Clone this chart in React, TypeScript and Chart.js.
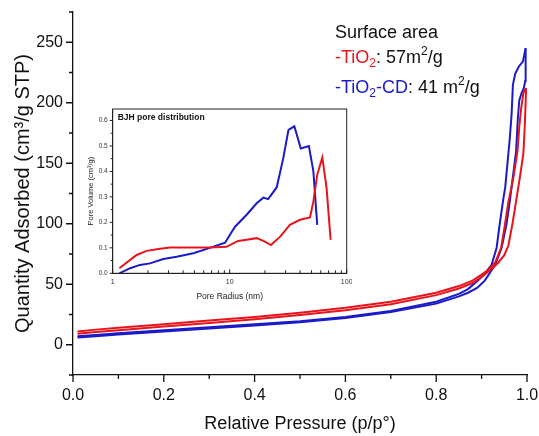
import React, { useEffect, useRef } from 'react';
import { Chart, registerables } from 'chart.js';

Chart.register(...registerables);

const FONT = "Arial, 'Liberation Sans', sans-serif";
const RED = '#e8141c';
const BLUE = '#1a1ac8';
const INK = '#111111';

// ---- Main isotherms (relative pressure p/p0, quantity adsorbed cm3/g STP)
const RED_ADS_P = [0.01, 0.05, 0.1, 0.2, 0.3, 0.4, 0.5, 0.6, 0.7, 0.8, 0.85, 0.88, 0.9, 0.92, 0.937, 0.95, 0.959, 0.968, 0.977, 0.985, 0.992, 0.995, 0.997, 0.998];
const RED_ADS_V = [9, 10.5, 12, 15, 18, 21, 24.5, 28.5, 33.5, 41, 46.5, 51, 56, 62, 68, 74, 82, 100, 121, 140, 158, 180, 200, 212];
const RED_DES_P = [0.998, 0.992, 0.987, 0.983, 0.979, 0.97, 0.959, 0.95, 0.943, 0.93, 0.915, 0.9, 0.88, 0.85, 0.8, 0.7, 0.6, 0.5, 0.4, 0.3, 0.2, 0.1, 0.05, 0.01];
const RED_DES_V = [212, 208, 195, 180, 160, 138, 118, 96, 80, 68, 62, 58, 53, 48.5, 43, 35.5, 30.5, 26.5, 23, 20, 17, 14, 12.5, 11];

const BLUE_ADS_P = [0.01, 0.05, 0.1, 0.2, 0.3, 0.4, 0.5, 0.6, 0.7, 0.8, 0.85, 0.87, 0.89, 0.907, 0.93, 0.944, 0.955, 0.963, 0.97, 0.976, 0.98, 0.983, 0.988, 0.993, 0.996, 0.997];
const BLUE_ADS_V = [6, 7, 8.5, 11, 13.5, 16, 18.5, 22, 27, 34, 40, 43, 47, 53, 66, 80, 100, 121, 142, 160, 188, 202, 208, 212, 218, 245];
const BLUE_DES_P = [0.997, 0.991, 0.982, 0.974, 0.969, 0.966, 0.962, 0.957, 0.952, 0.948, 0.94, 0.933, 0.922, 0.905, 0.892, 0.87, 0.85, 0.8, 0.7, 0.6, 0.5, 0.4, 0.3, 0.2, 0.1, 0.05, 0.01];
const BLUE_DES_V = [245, 234, 230, 224, 215, 190, 170, 150, 130, 121, 100, 80, 66, 58, 53, 46, 42, 35.5, 28, 23, 19.5, 17, 14.5, 12, 9.5, 8, 7];

const X_MAJOR = [0, 0.2, 0.4, 0.6, 0.8, 1.0];
const X_MINOR = [0.1, 0.3, 0.5, 0.7, 0.9];
const Y_MAJOR = [0, 50, 100, 150, 200, 250];
const Y_MINOR = [-25, 25, 75, 125, 175, 225, 275];

// ---- Inset: BJH pore distribution (pore radius nm, pore volume cm3/g)
const BJH_BLUE_R = [1.14, 1.41, 1.71, 2.08, 2.71, 3.52, 4.89, 6.77, 9.13, 11.1, 13.9, 17.0, 19.4, 21.3, 25.2, 28.7, 31.8, 35.7, 40.5, 47.5, 51.9, 56.0];
const BJH_BLUE_V = [0.0, 0.02, 0.033, 0.039, 0.056, 0.065, 0.079, 0.1, 0.12, 0.183, 0.229, 0.275, 0.297, 0.291, 0.337, 0.452, 0.563, 0.577, 0.49, 0.5, 0.4, 0.19];
const BJH_RED_R = [1.14, 1.6, 1.95, 2.54, 3.09, 4.89, 6.77, 9.4, 11.8, 13.5, 17.0, 19.4, 22.5, 27.0, 32.7, 39.9, 48.6, 51.9, 56.0, 61.9, 67.3, 72.9];
const BJH_RED_V = [0.02, 0.072, 0.088, 0.096, 0.101, 0.101, 0.101, 0.104, 0.127, 0.131, 0.138, 0.127, 0.111, 0.144, 0.19, 0.21, 0.219, 0.282, 0.387, 0.455, 0.334, 0.131];

const IN_X_MAJOR = [1, 10, 100];
const IN_X_MINOR = [2, 3, 4, 5, 6, 7, 8, 9, 20, 30, 40, 50, 60, 70, 80, 90];
const IN_Y_MAJOR = [0, 0.1, 0.2, 0.3, 0.4, 0.5, 0.6];
const IN_Y_MINOR = [0.05, 0.15, 0.25, 0.35, 0.45, 0.55];

const zip = (xs: number[], ys: number[]) => xs.map((x, i) => ({ x, y: ys[i] }));

type Part = { t: string; c: string; s: number; dy: number };
function drawRich(ctx: CanvasRenderingContext2D, x: number, y: number, parts: Part[]) {
  let cx = x;
  for (const p of parts) {
    ctx.font = `${p.s}px ${FONT}`;
    ctx.fillStyle = p.c;
    ctx.textBaseline = 'alphabetic';
    ctx.textAlign = 'left';
    ctx.fillText(p.t, cx, y + p.dy);
    cx += ctx.measureText(p.t).width;
  }
}

const line = (data: { x: number; y: number }[], color: string, w: number) => ({
  data,
  showLine: true,
  borderColor: color,
  backgroundColor: color,
  borderWidth: w,
  pointRadius: 0,
  fill: false,
  tension: 0,
});

const mainDeco = {
  id: 'mainDeco',
  afterDraw(chart: any) {
    const { ctx, chartArea: a, scales } = chart;
    const x = scales.x;
    const y = scales.y;
    ctx.save();
    ctx.strokeStyle = INK;
    ctx.lineWidth = 1.3;
    ctx.beginPath();
    for (const v of X_MAJOR) { const p = x.getPixelForValue(v); ctx.moveTo(p, a.bottom); ctx.lineTo(p, a.bottom + 7); }
    for (const v of X_MINOR) { const p = x.getPixelForValue(v); ctx.moveTo(p, a.bottom); ctx.lineTo(p, a.bottom + 4); }
    for (const v of Y_MAJOR) { const p = y.getPixelForValue(v); ctx.moveTo(a.left, p); ctx.lineTo(a.left - 7, p); }
    for (const v of Y_MINOR) { const p = y.getPixelForValue(v); ctx.moveTo(a.left, p); ctx.lineTo(a.left - 4, p); }
    ctx.stroke();

    const L = 335;
    drawRich(ctx, L, 38, [{ t: 'Surface area', c: INK, s: 18, dy: 0 }]);
    drawRich(ctx, L, 63, [
      { t: '-TiO', c: RED, s: 18, dy: 0 },
      { t: '2', c: RED, s: 12, dy: 4 },
      { t: ': 57m', c: INK, s: 18, dy: 0 },
      { t: '2', c: INK, s: 12, dy: -8 },
      { t: '/g', c: INK, s: 18, dy: 0 },
    ]);
    drawRich(ctx, L, 93, [
      { t: '-TiO', c: BLUE, s: 18, dy: 0 },
      { t: '2', c: BLUE, s: 12, dy: 4 },
      { t: '-CD', c: BLUE, s: 18, dy: 0 },
      { t: ': 41 m', c: INK, s: 18, dy: 0 },
      { t: '2', c: INK, s: 12, dy: -8 },
      { t: '/g', c: INK, s: 18, dy: 0 },
    ]);
    ctx.restore();
  },
};

const insetDeco = {
  id: 'insetDeco',
  afterDraw(chart: any) {
    const { ctx, chartArea: a, scales } = chart;
    const x = scales.x;
    const y = scales.y;
    ctx.save();
    ctx.strokeStyle = '#222';
    ctx.lineWidth = 1;
    ctx.strokeRect(a.left, a.top, a.right - a.left, a.bottom - a.top);
    ctx.beginPath();
    for (const v of IN_X_MAJOR) { const p = x.getPixelForValue(v); ctx.moveTo(p, a.bottom); ctx.lineTo(p, a.bottom - 4); }
    for (const v of IN_X_MINOR) { const p = x.getPixelForValue(v); ctx.moveTo(p, a.bottom); ctx.lineTo(p, a.bottom - 3); }
    for (const v of IN_Y_MAJOR) { const p = y.getPixelForValue(v); ctx.moveTo(a.left, p); ctx.lineTo(a.left - 3, p); }
    for (const v of IN_Y_MINOR) { const p = y.getPixelForValue(v); ctx.moveTo(a.left, p); ctx.lineTo(a.left - 2, p); }
    ctx.stroke();
    ctx.font = `bold 8.5px ${FONT}`;
    ctx.fillStyle = INK;
    ctx.textBaseline = 'middle';
    ctx.textAlign = 'left';
    ctx.fillText('BJH pore distribution', a.left + 5, a.top + 8.5);
    ctx.restore();
  },
};

export default function App() {
  const mainRef = useRef<HTMLCanvasElement>(null);
  const insetRef = useRef<HTMLCanvasElement>(null);

  useEffect(() => {
    const main = new Chart(mainRef.current as HTMLCanvasElement, {
      type: 'scatter',
      data: {
        datasets: [
          line(zip(RED_ADS_P, RED_ADS_V), RED, 2),
          line(zip(RED_DES_P, RED_DES_V), RED, 2),
          line(zip(BLUE_ADS_P, BLUE_ADS_V), BLUE, 2),
          line(zip(BLUE_DES_P, BLUE_DES_V), BLUE, 2),
        ],
      },
      options: {
        responsive: false,
        animation: false,
        layout: { padding: { left: 0, right: 12, top: 12, bottom: 0 } },
        plugins: { legend: { display: false }, tooltip: { enabled: false } },
        scales: {
          x: {
            type: 'linear',
            min: 0,
            max: 1,
            afterBuildTicks: (s: any) => { s.ticks = X_MAJOR.map((v) => ({ value: v })); },
            afterFit: (s: any) => { s.height = 61; s.paddingLeft = 0; s.paddingRight = 0; },
            grid: { display: true, drawOnChartArea: false, drawTicks: true, tickLength: 7, tickColor: 'rgba(0,0,0,0)' },
            border: { display: true, color: INK, width: 1.3 },
            ticks: { padding: 4, color: INK, font: { family: FONT, size: 16 }, maxRotation: 0, autoSkip: false, callback: (v: any) => Number(v).toFixed(1) },
            title: { display: true, text: 'Relative Pressure (p/p°)', color: INK, font: { family: FONT, size: 18 }, padding: { top: 0, bottom: 1 } },
          },
          y: {
            type: 'linear',
            min: -25,
            max: 275,
            afterBuildTicks: (s: any) => { s.ticks = Y_MAJOR.map((v) => ({ value: v })); },
            afterFit: (s: any) => { s.width = 73; s.paddingTop = 0; s.paddingBottom = 0; },
            grid: { display: true, drawOnChartArea: false, drawTicks: true, tickLength: 7, tickColor: 'rgba(0,0,0,0)' },
            border: { display: true, color: INK, width: 1.3 },
            ticks: { padding: 3, color: INK, font: { family: FONT, size: 16 }, autoSkip: false, callback: (v: any) => String(v) },
            title: { display: true, text: 'Quantity Adsorbed (cm³/g STP)', color: INK, font: { family: FONT, size: 20 }, padding: { top: 11, bottom: 0 } },
          },
        },
      },
      plugins: [mainDeco],
    } as any);

    const inset = new Chart(insetRef.current as HTMLCanvasElement, {
      type: 'scatter',
      data: {
        datasets: [
          line(zip(BJH_RED_R, BJH_RED_V), RED, 2),
          line(zip(BJH_BLUE_R, BJH_BLUE_V), BLUE, 2),
        ],
      },
      options: {
        responsive: false,
        animation: false,
        layout: { padding: { left: 0, right: 5.3, top: 5, bottom: 0 } },
        plugins: { legend: { display: false }, tooltip: { enabled: false } },
        scales: {
          x: {
            type: 'logarithmic',
            min: 1,
            max: 100,
            afterBuildTicks: (s: any) => { s.ticks = IN_X_MAJOR.map((v) => ({ value: v })); },
            afterFit: (s: any) => { s.height = 30.7; s.paddingLeft = 0; s.paddingRight = 0; },
            grid: { display: true, drawOnChartArea: false, drawTicks: true, tickLength: 3, tickColor: 'rgba(0,0,0,0)' },
            border: { display: true, color: '#222', width: 1 },
            ticks: { padding: 2, color: '#333', font: { family: FONT, size: 7 }, maxRotation: 0, autoSkip: false, callback: (v: any) => String(v) },
            title: { display: true, text: 'Pore Radius (nm)', color: '#222', font: { family: FONT, size: 8.5 }, padding: { top: 0, bottom: 2 } },
          },
          y: {
            type: 'linear',
            min: 0,
            max: 0.645,
            afterBuildTicks: (s: any) => { s.ticks = IN_Y_MAJOR.map((v) => ({ value: v })); },
            afterFit: (s: any) => { s.width = 32.7; s.paddingTop = 0; s.paddingBottom = 0; },
            grid: { display: true, drawOnChartArea: false, drawTicks: true, tickLength: 3, tickColor: 'rgba(0,0,0,0)' },
            border: { display: true, color: '#222', width: 1 },
            ticks: { padding: 2, color: '#333', font: { family: FONT, size: 6.5 }, autoSkip: false, callback: (v: any) => Number(v).toFixed(1) },
            title: { display: true, text: 'Pore Volume (cm³/g)', color: '#222', font: { family: FONT, size: 7.5 }, padding: { top: 6.5, bottom: 0 } },
          },
        },
      },
      plugins: [insetDeco],
    } as any);

    return () => {
      main.destroy();
      inset.destroy();
    };
  }, []);

  return (
    <div style={{ position: 'fixed', left: 0, top: 0, width: 539, height: 436, background: '#ffffff' }}>
      <canvas ref={mainRef} width={539} height={436} style={{ position: 'absolute', left: 0, top: 0, width: 539, height: 436 }} />
      <canvas ref={insetRef} width={272} height={200} style={{ position: 'absolute', left: 80, top: 104, width: 272, height: 200 }} />
    </div>
  );
}
